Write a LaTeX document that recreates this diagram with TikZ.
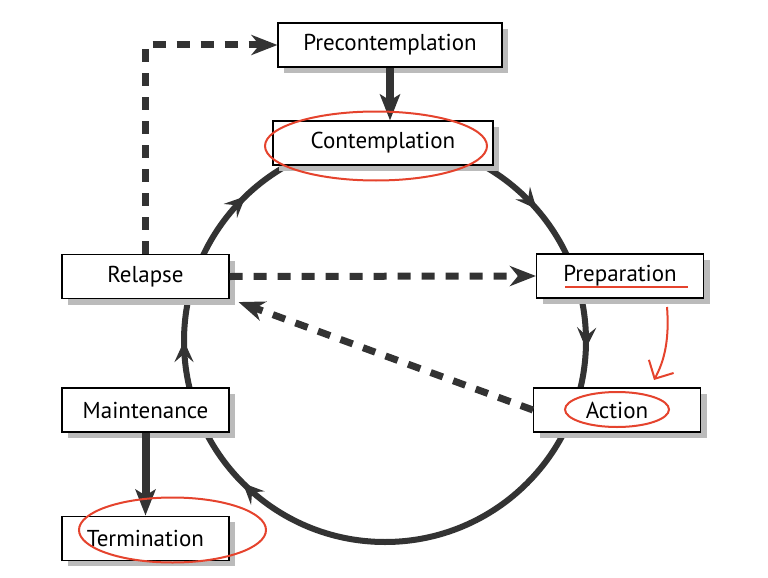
\documentclass[tikz,border=0pt]{standalone}
\usepackage{fontspec}
\setmainfont{PT Sans}
\usetikzlibrary{arrows.meta,decorations.markings,positioning,shadows}
\definecolor{cycleink}{HTML}{333333}
\definecolor{penred}{HTML}{E5432D}
\definecolor{shadowgray}{HTML}{BBBBBB}

\begin{document}
\begin{tikzpicture}[x=1pt,y=1pt,
  stage/.style={draw=black,line width=1.1pt,fill=white,minimum width=167pt,
    minimum height=44pt,inner sep=0pt,font=\fontsize{23}{27}\selectfont,
    drop shadow={shadow xshift=6pt,shadow yshift=-6pt,fill=shadowgray,opacity=1}},
  ring/.style={cycleink,line width=6pt},
  ringtip/.style={cycleink},
  solidflow/.style={cycleink,line width=8pt,-{Stealth[length=26pt,width=20pt,inset=6pt]}},
  dashflow/.style={cycleink,line width=7pt,dash pattern=on 13pt off 11pt,
    -{Stealth[length=26pt,width=20pt,inset=8pt]}},
  redpen/.style={penred,line width=2pt}
]
  \useasboundingbox (0,0) rectangle (768,-578);

  % the cycle behind the stages
  \draw[ring,postaction={decorate},
    decoration={markings,
      mark=at position .136 with {\arrow{Stealth[length=21pt,width=19pt,inset=8pt]}},
      mark=at position .256 with {\arrow{Stealth[length=21pt,width=19pt,inset=8pt]}},
      mark=at position .625 with {\arrow{Stealth[length=21pt,width=19pt,inset=8pt]}},
      mark=at position .75 with {\arrow{Stealth[length=21pt,width=19pt,inset=8pt]}},
      mark=at position .878 with {\arrow{Stealth[length=21pt,width=19pt,inset=8pt]}}}]
    (385,-140) arc[start angle=90,end angle=-270,radius=201];

  \node[stage,minimum width=224pt] (precon) at (390,-45) {Precontemplation};
  \node[stage,minimum width=220pt] (contem) at (383,-143) {Contemplation};
  \node[stage] (prep) at (620,-276) {Preparation};
  \node[stage] (action) at (617,-410) {Action};
  \node[stage] (relapse) at (145.5,-276.5) {Relapse};
  \node[stage] (maint) at (145.5,-410) {Maintenance};
  \node[stage,below=83pt of maint] (term) {Termination};

  \draw[solidflow] (precon.south) -- (precon.south |- contem.north);
  \draw[solidflow] (maint.south) -- (term.north);

  \draw[dashflow] (relapse.north) |- (precon.west);
  \draw[dashflow] (relapse.east) -- (prep.west);
  \coordinate (relapsetip) at ([shift={(9pt,-3pt)}]relapse.south east);
  \draw[dashflow] (action.west) -- (relapsetip);

  % red pen marks
  \draw[redpen] (376,-146) ellipse[x radius=111,y radius=34.5];
  \draw[redpen] (172.5,-530) ellipse[x radius=93.5,y radius=32.5];
  \draw[redpen] (617,-409.5) ellipse[x radius=52,y radius=17.5];
  \draw[redpen] (565,-287) -- (688,-287);
  \draw[redpen,-{Straight Barb[length=14pt,width=28pt]}]
    (667,-307) .. controls (670,-345) and (662,-365) .. (654,-380);
\end{tikzpicture}
\end{document}
